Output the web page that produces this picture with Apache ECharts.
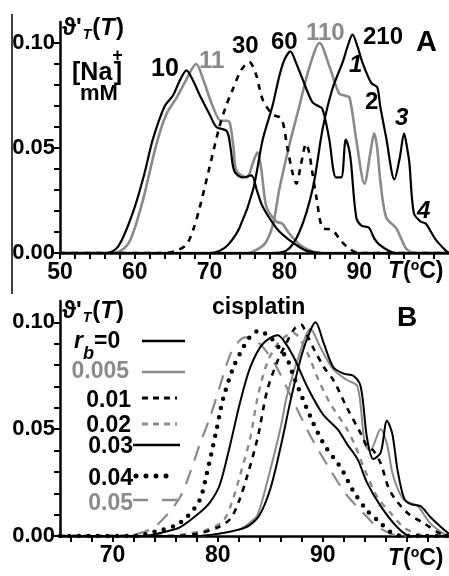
<!DOCTYPE html>
<html><head><meta charset="utf-8">
<script src="https://cdn.jsdelivr.net/npm/echarts@6/dist/echarts.min.js"></script>
<style>html,body{margin:0;padding:0;background:#fff}#c{width:449px;height:576px}</style>
</head><body><div id="c"></div>
<script>
// ---------- Panel A data: [T (°C), dθ/dT] ----------
const na10 = [[50,0],[56,0],[57.5,0.002],[58.5,0.008],[60,0.022],[61.3,0.038],[62.4,0.054],[64,0.07],[65.1,0.075],[66,0.082],[66.9,0.087],[67.8,0.082],[68.7,0.075],[70,0.066],[70.9,0.060],[72.3,0.058],[72.8,0.05],[73.3,0.039],[74.4,0.036],[75.6,0.037],[76.3,0.030],[77.1,0.022],[78.9,0.012],[80,0.008],[81.5,0.004],[83,0.001],[85,0],[102,0]];
const na11 = [[50,0],[57,0],[58.5,0.002],[59.5,0.007],[61,0.024],[62.9,0.052],[64.2,0.066],[65.6,0.074],[66.8,0.082],[68.2,0.090],[69.2,0.082],[70.4,0.070],[71.5,0.063],[72.3,0.063],[72.7,0.062],[73.2,0.050],[73.6,0.039],[75,0.036],[75.7,0.042],[76.4,0.048],[76.9,0.040],[77.6,0.022],[78.9,0.015],[79.7,0.014],[80.5,0.010],[82,0.004],[83.6,0.001],[85,0],[102,0]];
const na30 = [[50,0],[64,0],[65.5,0.001],[66.9,0.004],[67.8,0.011],[68.7,0.022],[70,0.041],[71.3,0.060],[72.2,0.070],[73.1,0.078],[74.2,0.087],[75.3,0.091],[76.2,0.085],[77.1,0.073],[78.4,0.066],[79.6,0.064],[80.4,0.050],[81.1,0.038],[81.6,0.033],[82.2,0.042],[82.9,0.052],[83.3,0.048],[83.7,0.039],[84.3,0.026],[85.1,0.012],[86.4,0.011],[87.5,0.006],[88.7,0.002],[90,0],[102,0]];
const na60 = [[50,0],[70,0],[71.3,0.001],[72.5,0.004],[74,0.012],[75.8,0.030],[77.1,0.054],[78.4,0.070],[79.3,0.084],[80,0.092],[80.8,0.096],[81.5,0.091],[82.4,0.083],[83.7,0.072],[84.5,0.070],[85,0.069],[85.5,0.063],[86,0.054],[86.9,0.036],[87.6,0.036],[88.2,0.054],[88.6,0.050],[88.9,0.043],[89.6,0.017],[90.3,0.013],[91.3,0.012],[92,0.007],[92.7,0.004],[94,0.001],[95,0],[102,0]];
const na110 = [[50,0],[75,0],[76.5,0.002],[77.5,0.005],[78.5,0.014],[79.3,0.030],[80.7,0.052],[82,0.070],[83.3,0.088],[84.7,0.100],[86,0.089],[87.3,0.076],[88,0.075],[88.7,0.074],[89.6,0.054],[90.7,0.033],[91.5,0.048],[92,0.057],[92.4,0.050],[92.8,0.035],[93.6,0.017],[94.9,0.012],[95.6,0.007],[96.3,0.002],[97.5,0],[102,0]];
const na210 = [[50,0],[78,0],[80.2,0.001],[82,0.010],[83.8,0.031],[85.1,0.059],[86.4,0.078],[87.8,0.091],[88.5,0.099],[89.1,0.104],[89.8,0.098],[90.4,0.091],[91.6,0.081],[92.4,0.079],[92.8,0.070],[93.6,0.055],[94.7,0.035],[95.4,0.045],[96,0.057],[96.4,0.050],[96.7,0.043],[97.3,0.019],[98.2,0.015],[98.9,0.014],[99.6,0.010],[100.3,0.006],[101.6,0.001],[102,0]];

// ---------- Panel B data (cisplatin, r_b) ----------
const rb0 = [[65,0],[78,0],[80,0.001],[82,0.003],[83,0.005],[84,0.010],[85,0.022],[86,0.042],[87,0.065],[88,0.085],[88.8,0.096],[89.3,0.100],[90.1,0.090],[91,0.079],[92,0.076],[92.9,0.075],[93.6,0.070],[94.2,0.046],[94.8,0.036],[95.5,0.039],[96.1,0.054],[96.6,0.048],[97.1,0.031],[97.7,0.018],[98.3,0.015],[99.3,0.014],[100.2,0.009],[101.5,0.003],[102,0.001]];
const rb0005 = [[65,0],[78,0],[80,0.001],[82,0.003],[83,0.006],[83.8,0.010],[85,0.031],[86,0.051],[86.6,0.066],[87.9,0.087],[88.8,0.097],[89.8,0.088],[91,0.078],[92.3,0.073],[93.3,0.070],[94,0.043],[94.5,0.040],[95.5,0.050],[96.1,0.043],[96.7,0.028],[97.7,0.017],[99,0.014],[100.2,0.006],[101.5,0.001],[102,0]];
const rb001 = [[65,0],[76,0],[78,0.001],[80,0.004],[81.2,0.008],[82,0.016],[82.8,0.028],[83.8,0.046],[84.7,0.068],[85.7,0.082],[86.6,0.091],[87.3,0.097],[87.9,0.099],[88.5,0.094],[89.1,0.088],[90.1,0.079],[91,0.073],[92.3,0.060],[93.6,0.048],[94.2,0.042],[94.8,0.040],[95.5,0.034],[96.4,0.021],[98,0.011],[99.6,0.006],[101.2,0.001],[102,0]];
const rb002 = [[65,0],[75,0],[77,0.001],[79,0.003],[80.5,0.007],[81.3,0.015],[82.1,0.028],[83.1,0.046],[83.8,0.065],[84.7,0.081],[85.7,0.090],[86.6,0.094],[87.2,0.095],[88.5,0.086],[89.5,0.074],[90.7,0.062],[92.3,0.050],[93.1,0.042],[93.9,0.032],[95.2,0.018],[96.4,0.011],[97.7,0.004],[99,0.001],[100,0],[102,0]];
const rb003 = [[65,0],[73,0],[75,0.002],[76.4,0.004],[78.3,0.011],[79.3,0.016],[80.2,0.024],[81.2,0.043],[82.1,0.062],[83.1,0.079],[84.3,0.090],[85.7,0.094],[86.2,0.092],[87.2,0.084],[88.5,0.070],[90,0.057],[91.4,0.050],[92.3,0.043],[93.3,0.036],[94.2,0.025],[95.5,0.014],[97.1,0.004],[98.3,0],[102,0]];
const rb004 = [[65,0],[72,0],[74,0.002],[76,0.005],[77.1,0.009],[78.3,0.017],[79,0.030],[79.9,0.050],[80.5,0.064],[81.5,0.079],[82.4,0.088],[83.2,0.094],[83.9,0.096],[85,0.093],[86,0.087],[86.6,0.083],[87.2,0.075],[88.8,0.056],[90.1,0.043],[91.7,0.032],[92.9,0.021],[94.2,0.012],[95.5,0.006],[96.4,0.002],[97.5,0],[102,0]];
const rb005 = [[65,0],[71,0],[73.6,0.003],[75,0.009],[76.4,0.018],[77.4,0.030],[78.3,0.043],[79.3,0.056],[80.2,0.070],[81.2,0.085],[82,0.091],[82.6,0.093],[83.4,0.092],[84.2,0.089],[85.5,0.080],[87,0.065],[88.8,0.047],[90.7,0.031],[92.3,0.019],[94,0.010],[95,0.005],[96.5,0.001],[97.5,0],[102,0]];

// ---------- tick values / labels ----------
const xTicksA = [50,52,54,56,58,60,62,64,66,68,70,72,74,76,78,80,82,84,86,88,90,92,94,96,98,100];
const xLabelsA = [50,60,70,80,90];
const xTicksB = [66,68,70,72,74,76,78,80,82,84,86,88,90,92,94,96,98,100];
const xLabelsB = [70,80,90];
const yTicks = [0,0.01,0.02,0.03,0.04,0.05,0.06,0.07,0.08,0.09,0.10];
const yLabels = [0,0.05,0.10];
const naLabels = ['10','11','30','60','110','210'];
const rbLabels = ['0','0.005','0.01','0.02','0.03','0.04','0.05'];

const BLACK = '#000', GRAY = '#8a8a8a';
const FONT = 'Liberation Sans, Arial, sans-serif';
const chart = echarts.init(document.getElementById('c'), null, {renderer:'canvas'});

function xAxis(gi, min, ticks, labels){
  return {type:'value', gridIndex:gi, min:min, max:102,
    axisLine:{onZero:false, lineStyle:{color:BLACK,width:2.5}},
    axisTick:{show:true, customValues:ticks, length:6, lineStyle:{color:BLACK,width:2}},
    axisLabel:{customValues:labels, margin:8, color:BLACK, fontSize:23, fontWeight:'bold', fontFamily:FONT},
    splitLine:{show:false}};
}
function yAxis(gi){
  return {type:'value', gridIndex:gi, min:0, max:0.11,
    axisLine:{show:true, lineStyle:{color:BLACK,width:2.5}},
    axisTick:{show:true, customValues:yTicks, length:6, lineStyle:{color:BLACK,width:2}},
    axisLabel:{customValues:yLabels, margin:5, color:BLACK, fontSize:22, fontWeight:'bold', fontFamily:FONT,
      formatter:v=>Number(v).toFixed(2)},
    splitLine:{show:false}};
}
function line(data, gi, color, width, type, cap){
  return {type:'line', xAxisIndex:gi, yAxisIndex:gi, data:data, symbol:'none', smooth:0.3,
    silent:true, animation:false,
    lineStyle:{color:color, width:width, type:type||'solid', cap:cap||'butt', join:'round'}};
}

const mctx = document.createElement('canvas').getContext('2d');
const txt = (x,y,text,opt) => ({type:'text', x:x, y:y, silent:true,
  style:Object.assign({text:text, fill:BLACK, font:'bold 24px '+FONT, textAlign:'left', textVerticalAlign:'middle'}, opt||{})});
// sequence of pieces [text, font, dy, fill, extraGap]
function seq(x, y, pieces){
  const out = []; let cx = x;
  pieces.forEach(p => {
    const font = p[1] + ' ' + FONT;
    out.push(txt(cx, y + (p[2]||0), p[0], {font:font, fill:p[3]||BLACK}));
    mctx.font = font; cx += mctx.measureText(p[0]).width + (p[4]||0);
  });
  return out;
}
const seg = (x1,y1,x2,y2,color,width,dash,cap) => ({type:'line', silent:true,
  shape:{x1:x1,y1:y1,x2:x2,y2:y2}, style:{stroke:color, lineWidth:width, lineDash:dash||null, lineCap:cap||'butt'}});

const ytitle = (x,y) => seq(x,y,[["ϑ'",'bold 24px',0,null,1],['T','italic bold 14px',7,null,1],['(','bold 24px'],['T','italic bold 24px',0,null,1],[')','bold 24px']]);
const tlabel = (x,y) => seq(x,y,[['T','italic bold 23px',0,null,1],['(','bold 23px'],['o','bold 14px',-6],['C)','bold 23px']]);

const graphics = [].concat(
  [seg(12,14,12,294,BLACK,1.5)],
  ytitle(62,28),
  seq(72,73,[['[Na','bold 25px'],['+','bold 18px',-17,null,-9],[']','bold 25px']]),
  [txt(80,94,'mM',{font:'bold 22px '+FONT})],
  [txt(151,69,naLabels[0],{font:'bold 25px '+FONT}),
   txt(199,61,naLabels[1],{fill:GRAY}),
   txt(232,46,naLabels[2]),
   txt(271,42,naLabels[3]),
   txt(306,33,naLabels[4],{fill:GRAY}),
   txt(363,37,naLabels[5]),
   txt(416,43,'A',{font:'bold 29px '+FONT}),
   txt(349,65,'1',{font:'italic bold 24px '+FONT}),
   txt(365,102,'2',{font:'bold 24px '+FONT}),
   txt(395,118,'3',{font:'italic bold 24px '+FONT}),
   txt(417,211,'4',{font:'italic bold 24px '+FONT})],
  tlabel(388,272),
  ytitle(62,311),
  [txt(212,308,'cisplatin',{font:'bold 23px '+FONT}),
   txt(397,318,'B',{font:'bold 28px '+FONT})],
  seq(74,342,[['r','italic bold 23px'],['b','italic bold 18px',12],['='+rbLabels[0],'bold 23px']]),
  [txt(129,372,rbLabels[1],{fill:GRAY,textAlign:'right',font:'bold 23px '+FONT}),
   txt(131,401,rbLabels[2],{textAlign:'right',font:'bold 23px '+FONT}),
   txt(131,426,rbLabels[3],{textAlign:'right',font:'bold 23px '+FONT}),
   txt(133,447,rbLabels[4],{textAlign:'right',font:'bold 23px '+FONT}),
   txt(133,479,rbLabels[5],{textAlign:'right',font:'bold 23px '+FONT}),
   txt(133,504,rbLabels[6],{fill:GRAY,textAlign:'right',font:'bold 23px '+FONT}),
   seg(142,341,185,341,BLACK,2.4),
   seg(142,372,185,372,GRAY,2.4),
   seg(142,398,177,398,BLACK,2.8,[6,5]),
   seg(142,424,177,424,GRAY,2.8,[6,5]),
   seg(133,445,180,445,BLACK,2.4),
   seg(136,476,172,476,BLACK,5,[0,10],'round'),
   seg(133,500,185,500,GRAY,2.4,[15,14])],
  tlabel(388,559)
);

chart.setOption({
  animation:false,
  backgroundColor:'#fff',
  grid:[{left:60, top:22, width:389, height:231, containLabel:false},
        {left:60, top:301, width:389, height:235, containLabel:false}],
  xAxis:[xAxis(0,50,xTicksA,xLabelsA), xAxis(1,65,xTicksB,xLabelsB)],
  yAxis:[yAxis(0), yAxis(1)],
  series:[
    line(na11,0,GRAY,2.6),
    line(na110,0,GRAY,2.6),
    line(na10,0,BLACK,2.2),
    line(na30,0,BLACK,2.6,[6,6]),
    line(na60,0,BLACK,2.2),
    line(na210,0,BLACK,2.2),
    line(rb005,1,GRAY,2.2,[15,10]),
    line(rb002,1,GRAY,2.4,[6,6]),
    line(rb0005,1,GRAY,2),
    line(rb004,1,BLACK,4.5,[0,9.5],'round'),
    line(rb003,1,BLACK,2),
    line(rb001,1,BLACK,2.6,[6,6]),
    line(rb0,1,BLACK,2)
  ],
  graphic:graphics
});
</script></body></html>
